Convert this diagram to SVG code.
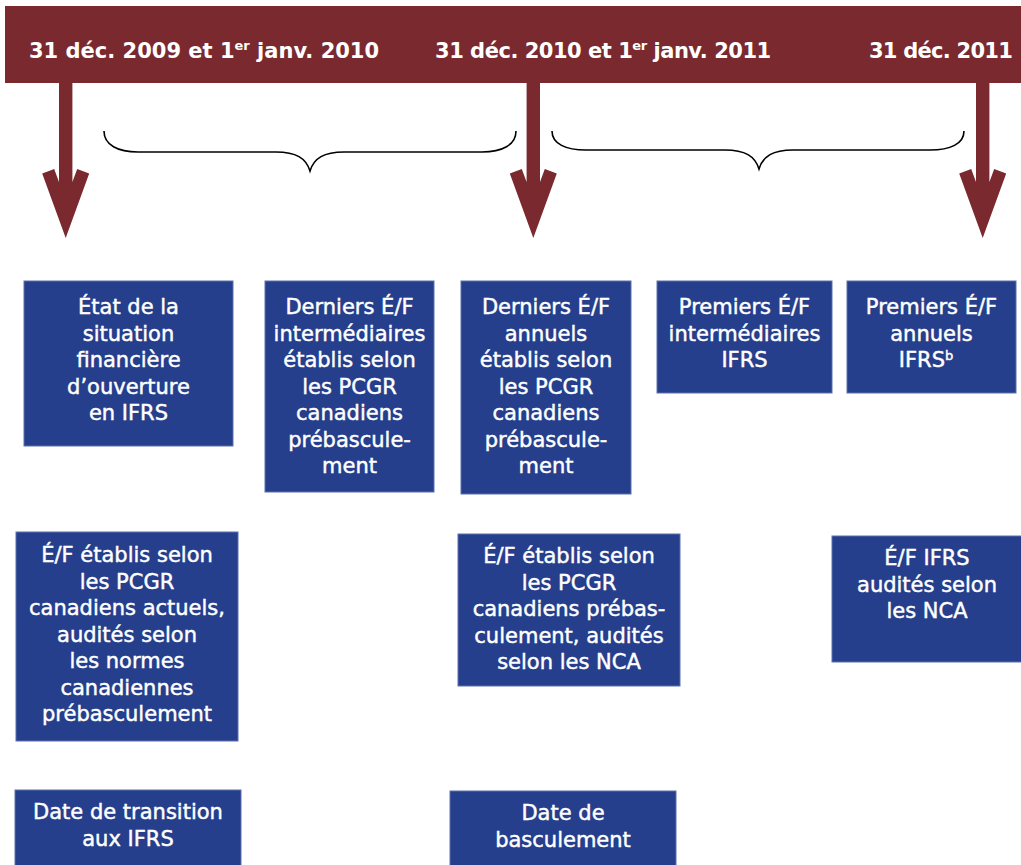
<svg xmlns="http://www.w3.org/2000/svg" width="1021" height="865" viewBox="0 0 1021 865">
<style>
.banner{fill:#7a2a2f}
.arrow{fill:#7a2a2f}
.brace{fill:none;stroke:#000;stroke-width:1.6}
.box{fill:#263f8c;stroke:#5d70ad;stroke-width:1}
.bt{font-family:"DejaVu Sans","Liberation Sans",sans-serif;font-weight:700;font-size:21px;fill:#fff}
.t{font-family:"DejaVu Sans","Liberation Sans",sans-serif;font-weight:400;font-size:21px;fill:#fff;stroke:#fff;stroke-width:0.45;text-anchor:middle}
.sup{font-size:13px}
</style>
<rect width="1021" height="865" fill="#fff"/>
<g id="banner">
<rect class="banner" x="5" y="6" width="1016" height="77"/>
<text class="bt" x="29" y="58">31 déc. 2009 et 1<tspan class="sup" dy="-8">er</tspan><tspan dy="8"> janv. 2010</tspan></text>
<text class="bt" x="435" y="58" letter-spacing="-0.48">31 déc. 2010 et 1<tspan class="sup" dy="-8">er</tspan><tspan dy="8"> janv. 2011</tspan></text>
<text class="bt" x="1012" y="58" text-anchor="end" letter-spacing="-0.75">31 déc. 2011</text>
</g>
<g id="connectors">
<polygon class="arrow" points="59,83 72.4,83 72.4,182 77.2,169 89.2,173.5 65.7,238 42.2,173.5 54.2,169 59,182"/>
<polygon class="arrow" points="526.6,83 540,83 540,182 544.8,169 556.8,173.5 533.3,238 509.8,173.5 521.8,169 526.6,182"/>
<polygon class="arrow" points="976,83 989.4,83 989.4,182 994.2,169 1006.2,173.5 982.7,238 959.2,173.5 971.2,169 976,182"/>
<path class="brace" d="M104,131 C104,145 118,152 138,152 L276,152 C296,152 306,158 310,171 C314,158 324,152 344,152 L482,152 C502,152 516,145 516,131"/>
<path class="brace" d="M552,131 C552,144 566,150 586,150 L725,150 C745,150 755,156 759,169 C763,156 773,150 793,150 L930,150 C950,150 964,144 964,131"/>
</g>
<g id="n1"><rect class="box" x="24" y="281" width="209" height="165"/>
<text class="t"><tspan x="128.5" y="314">État de la</tspan><tspan x="128.5" y="340.5">situation</tspan><tspan x="128.5" y="367">financière</tspan><tspan x="128.5" y="393.5">d’ouverture</tspan><tspan x="128.5" y="420">en IFRS</tspan></text></g>
<g id="n2"><rect class="box" x="265" y="281" width="169" height="211"/>
<text class="t"><tspan x="349.5" y="314">Derniers É/F</tspan><tspan x="349.5" y="340.5">intermédiaires</tspan><tspan x="349.5" y="367">établis selon</tspan><tspan x="349.5" y="393.5">les PCGR</tspan><tspan x="349.5" y="420">canadiens</tspan><tspan x="349.5" y="446.5">prébascule-</tspan><tspan x="349.5" y="473">ment</tspan></text></g>
<g id="n3"><rect class="box" x="461" y="281" width="170" height="213"/>
<text class="t"><tspan x="546" y="314">Derniers É/F</tspan><tspan x="546" y="340.5">annuels</tspan><tspan x="546" y="367">établis selon</tspan><tspan x="546" y="393.5">les PCGR</tspan><tspan x="546" y="420">canadiens</tspan><tspan x="546" y="446.5">prébascule-</tspan><tspan x="546" y="473">ment</tspan></text></g>
<g id="n4"><rect class="box" x="657" y="281" width="175" height="112"/>
<text class="t"><tspan x="744.5" y="314">Premiers É/F</tspan><tspan x="744.5" y="340.5">intermédiaires</tspan><tspan x="744.5" y="367">IFRS</tspan></text></g>
<g id="n5"><rect class="box" x="847" y="281" width="169" height="112"/>
<text class="t"><tspan x="931.5" y="314">Premiers É/F</tspan><tspan x="931.5" y="340.5">annuels</tspan><tspan x="926" y="367">IFRS<tspan class="sup" dy="-7">b</tspan></tspan></text></g>
<g id="n6"><rect class="box" x="16" y="532" width="222" height="209"/>
<text class="t"><tspan x="127" y="562">É/F établis selon</tspan><tspan x="127" y="588.5">les PCGR</tspan><tspan x="127" y="615">canadiens actuels,</tspan><tspan x="127" y="641.5">audités selon</tspan><tspan x="127" y="668">les normes</tspan><tspan x="127" y="694.5">canadiennes</tspan><tspan x="127" y="721">prébasculement</tspan></text></g>
<g id="n7"><rect class="box" x="458" y="534" width="222" height="152"/>
<text class="t"><tspan x="569" y="563">É/F établis selon</tspan><tspan x="569" y="589.5">les PCGR</tspan><tspan x="569" y="616">canadiens prébas-</tspan><tspan x="569" y="642.5">culement, audités</tspan><tspan x="569" y="669">selon les NCA</tspan></text></g>
<g id="n8"><rect class="box" x="832" y="536" width="190" height="126"/>
<text class="t"><tspan x="927" y="565">É/F IFRS</tspan><tspan x="927" y="591.5">audités selon</tspan><tspan x="927" y="618">les NCA</tspan></text></g>
<g id="n9"><rect class="box" x="15" y="790" width="226" height="76"/>
<text class="t"><tspan x="128" y="819">Date de transition</tspan><tspan x="128" y="845.5">aux IFRS</tspan></text></g>
<g id="n10"><rect class="box" x="450" y="791" width="226" height="75"/>
<text class="t"><tspan x="563" y="820">Date de</tspan><tspan x="563" y="846.5">basculement</tspan></text></g>
</svg>
